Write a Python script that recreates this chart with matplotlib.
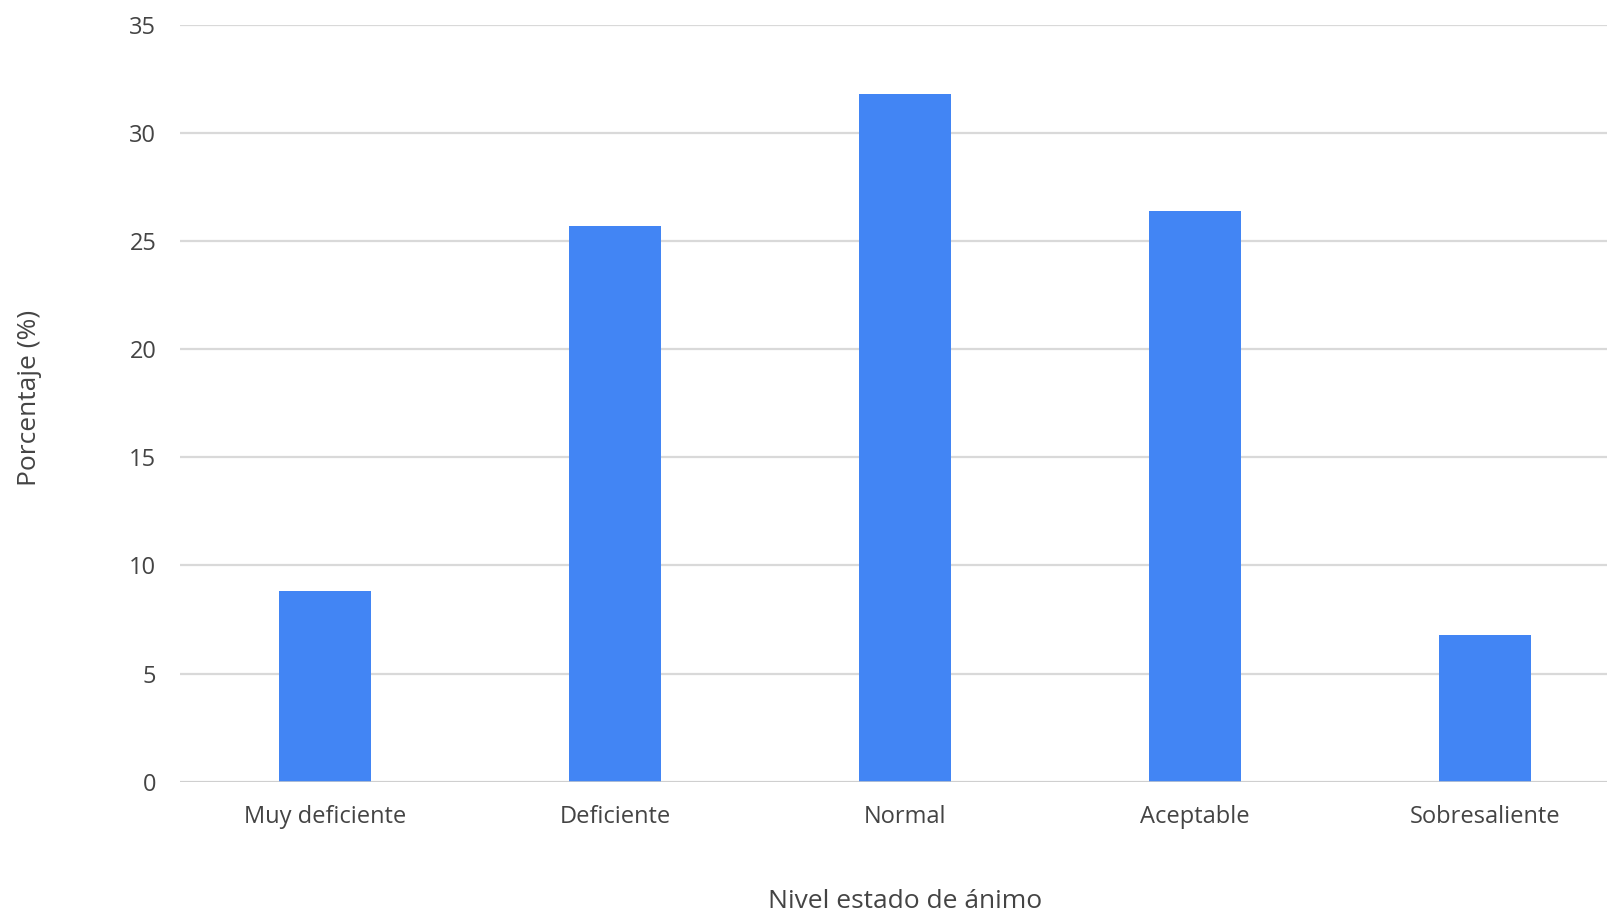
import matplotlib
matplotlib.use("Agg")
import matplotlib.pyplot as plt

categories = ['Muy deficiente', 'Deficiente', 'Normal', 'Aceptable', 'Sobresaliente']
values = [8.8, 25.7, 31.8, 26.4, 6.8]
yticks = [0, 5, 10, 15, 20, 25, 30, 35]

plt.rcParams['font.family'] = ['Open Sans', 'DejaVu Sans']

fig = plt.figure(figsize=(16.08, 9.16), dpi=100)
ax = fig.add_axes([180 / 1608, 1 - 781.7 / 916, 1450 / 1608, 757 / 916])

ax.bar(range(len(categories)), values, width=0.314, color='#4285f4', zorder=3)

ax.set_xlim(-0.5, len(categories) - 0.5)
ax.set_ylim(0, 35)
ax.set_yticks(yticks)
ax.set_xticks(range(len(categories)))
ax.set_xticklabels(categories)

ax.grid(axis='y', color='#d9d9d9', linewidth=1.6, zorder=0)
ax.axhline(0, color='#cccccc', linewidth=1.8, zorder=4)
for s in ax.spines.values():
    s.set_visible(False)
ax.tick_params(axis='both', length=0, labelsize=17, colors='#444444')
ax.tick_params(axis='y', pad=17)
ax.tick_params(axis='x', pad=17)

fig.text(905 / 1608, 1 - 902 / 916, 'Nivel estado de ánimo', ha='center', va='center',
         fontsize=19, color='#444444')
fig.text(30 / 1608, 1 - 398 / 916, 'Porcentaje (%)', ha='center', va='center',
         rotation=90, fontsize=19, color='#444444')

fig.savefig('out.png', dpi=100)
